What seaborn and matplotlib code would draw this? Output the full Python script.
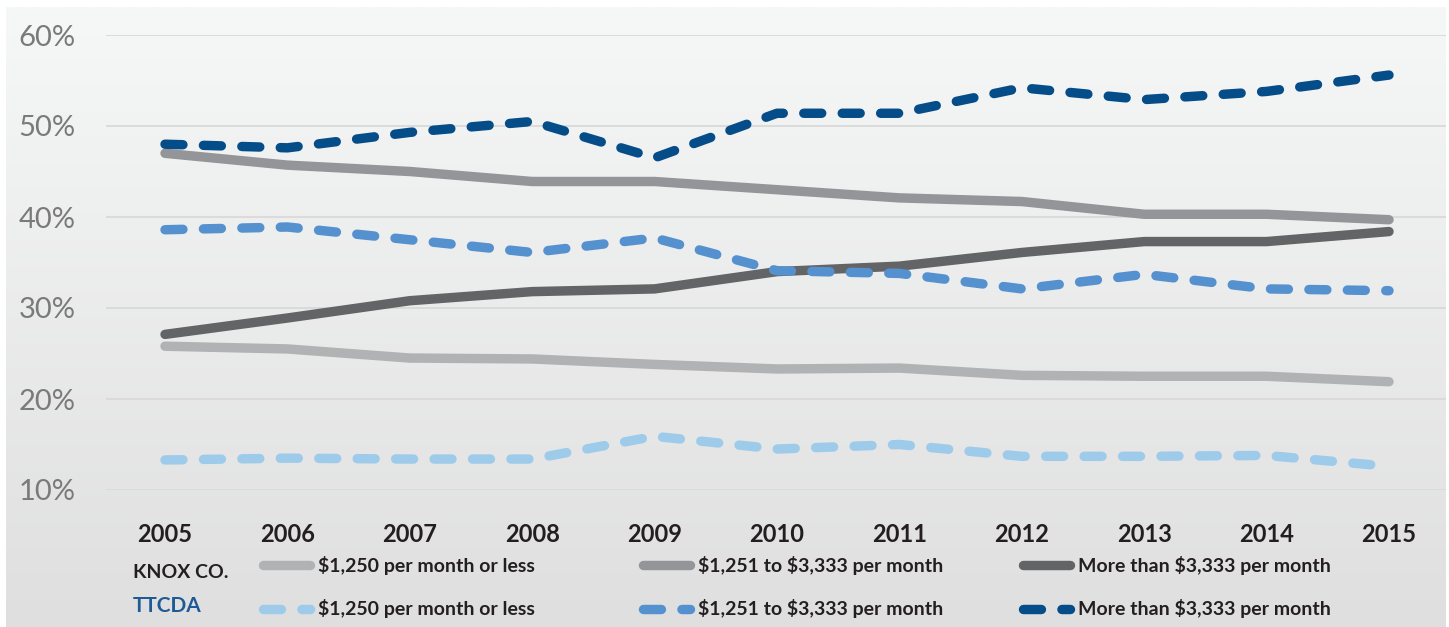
import numpy as np
import pandas as pd
import seaborn as sns
import matplotlib.pyplot as plt
from matplotlib.lines import Line2D
from matplotlib.colors import LinearSegmentedColormap

sns.set_style("white")
plt.rcParams['font.family'] = ['Lato', 'DejaVu Sans']

# data (share of households, %)
years = list(range(2005, 2016))
knox_low = [25.8, 25.5, 24.5, 24.4, 23.8, 23.3, 23.4, 22.6, 22.5, 22.5, 21.9]
knox_mid = [47.0, 45.7, 45.0, 43.9, 43.9, 43.0, 42.1, 41.7, 40.3, 40.3, 39.7]
knox_high = [27.1, 28.9, 30.8, 31.8, 32.1, 34.0, 34.6, 36.1, 37.3, 37.3, 38.4]
ttcda_low = [13.3, 13.5, 13.4, 13.4, 15.9, 14.5, 15.0, 13.7, 13.7, 13.8, 12.6]
ttcda_mid = [38.6, 38.9, 37.5, 36.1, 37.7, 34.1, 33.8, 32.1, 33.7, 32.1, 31.9]
ttcda_high = [48.0, 47.6, 49.3, 50.5, 46.5, 51.4, 51.4, 54.2, 52.9, 53.8, 55.6]

groups = ['KNOX CO.', 'TTCDA']
income_labels = ['$1,250 per month or less', '$1,251 to $3,333 per month',
                 'More than $3,333 per month']
yticks = [10, 20, 30, 40, 50, 60]

series = {
    'knox_low': knox_low, 'knox_mid': knox_mid, 'knox_high': knox_high,
    'ttcda_low': ttcda_low, 'ttcda_mid': ttcda_mid, 'ttcda_high': ttcda_high,
}
colors = {
    'knox_low': '#b1b2b4', 'knox_mid': '#939598', 'knox_high': '#636466',
    'ttcda_low': '#9fcbeb', 'ttcda_mid': '#5591cf', 'ttcda_high': '#054d88',
}
dash = (1.9, 2.17)
dashes = {k: ('' if k.startswith('knox') else dash) for k in series}

df = pd.concat([pd.DataFrame({'year': years, 'value': v, 'series': k})
                for k, v in series.items()], ignore_index=True)

W, H = 1449, 627
fig = plt.figure(figsize=(W / 100, H / 100), dpi=100)
fig.patch.set_facecolor('white')

# gradient panel behind the chart
bg = fig.add_axes([6 / W, 0, 1440 / W, 620 / H], zorder=-1)
cmap = LinearSegmentedColormap.from_list('bg', ['#f6f7f7', '#dfdfdf'])
bg.imshow(np.linspace(0, 1, 256).reshape(-1, 1), aspect='auto', cmap=cmap,
          extent=[0, 1, 0, 1])
bg.axis('off')

ax = fig.add_axes([106 / W, 137 / H, 1340 / W, 455 / H])
ax.set_facecolor('none')

lw = 6.8
sns.lineplot(data=df, x='year', y='value', hue='series', style='series',
             hue_order=list(series), style_order=list(series),
             palette=colors, dashes=dashes, linewidth=lw, legend=False,
             solid_capstyle='round', dash_capstyle='round', ax=ax)

ax.set_xlim(2005 - 59 / 122.4, 2015 + 57 / 122.4)
ax.set_ylim(10, 60)
ax.set_yticks(yticks)
ax.set_yticklabels([f'{t}%' for t in yticks])
ax.set_xticks(years)
ax.set_xticklabels([str(y) for y in years])
ax.yaxis.grid(True, color='#d9d9d9', linewidth=1.3)
ax.set_axisbelow(True)
for s in ax.spines.values():
    s.set_visible(False)
ax.set_xlabel('')
ax.set_ylabel('')
ax.tick_params(axis='y', length=0, pad=22, labelsize=21, labelcolor='#7a7a7a')
ax.tick_params(axis='x', length=0, pad=24, labelsize=17, labelcolor='#231f20')
for t in ax.get_xticklabels():
    t.set_fontweight('bold')

# legend: one column per income band, Knox row on top, TTCDA below
col_x = [266, 646, 1026]
keys = [('knox_low', 'ttcda_low'), ('knox_mid', 'ttcda_mid'),
        ('knox_high', 'ttcda_high')]
for i, (kk, tk) in enumerate(keys):
    handles = [
        Line2D([], [], color=colors[kk], lw=lw, solid_capstyle='round'),
        Line2D([], [], color=colors[tk], lw=lw, dashes=dash,
               dash_capstyle='round'),
    ]
    lab = income_labels[i].replace('$', r'\$')
    leg = fig.legend(handles, [lab, lab], loc='upper left',
                     bbox_to_anchor=((col_x[i] - 3) / W, 1 - 556 / H),
                     frameon=False, handlelength=2.4, handletextpad=0.45,
                     labelspacing=1.25, borderpad=0, borderaxespad=0,
                     prop={'size': 14, 'weight': 'bold'})
    for t in leg.get_texts():
        t.set_color('#231f20')

fig.text(133 / W, 1 - 573 / H, groups[0], fontsize=14, fontweight='bold',
         color='#231f20', va='center', ha='left')
fig.text(133 / W, 1 - 606 / H, groups[1], fontsize=15, fontweight='bold',
         color='#1f5a96', va='center', ha='left')

fig.savefig('out.png', dpi=100)
